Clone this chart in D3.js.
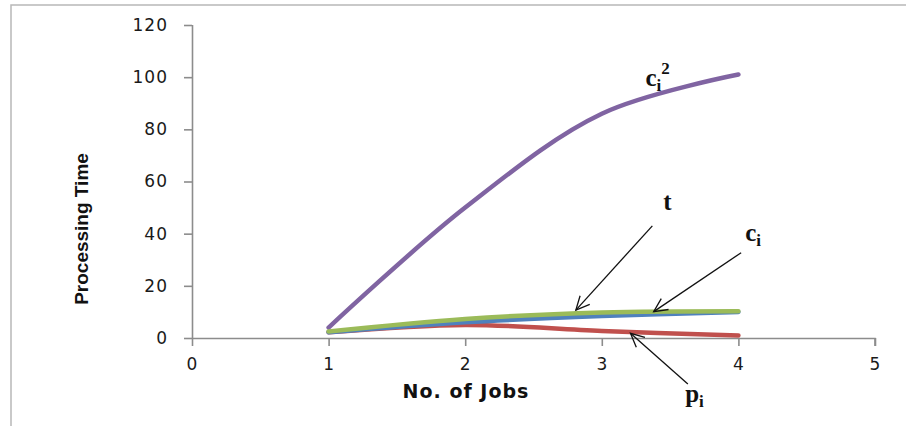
<!DOCTYPE html>
<html>
<head>
<meta charset="utf-8">
<script src="https://cdn.jsdelivr.net/npm/d3@7"></script>
<style>
  html, body { margin: 0; padding: 0; background: #fff; }
  svg { display: block; }
</style>
</head>
<body>
<svg id="chart" width="906" height="426"></svg>
<script>
// Number of jobs on the x axis
const jobs = [1, 2, 3, 4];

// Processing time of each quantity
const ci2Values = [4, 50, 86, 101];
const pValues   = [2.2, 5, 2.7, 1];
const cValues   = [2.2, 6, 8.4, 10];
const tValues   = [2.5, 7.3, 9.8, 10.3];

// Axis ticks
const xTicks = [0, 1, 2, 3, 4, 5];
const yTicks = [0, 20, 40, 60, 80, 100, 120];

const series = [
  { name: "ci2", values: ci2Values, color: "#8064A2" },
  { name: "p",   values: pValues,   color: "#C0504D" },
  { name: "c",   values: cValues,   color: "#4F81BD" },
  { name: "t",   values: tValues,   color: "#9BBB59" }
];

const svg = d3.select("#chart");

// outer frame
svg.append("rect")
  .attr("x", 11).attr("y", 5)
  .attr("width", 1000).attr("height", 1000)
  .attr("fill", "none")
  .attr("stroke", "#B8B8B8")
  .attr("stroke-width", 1.5);

const x = d3.scaleLinear().domain([0, 5]).range([192, 875]);
const y = d3.scaleLinear().domain([0, 120]).range([338, 25]);

const axisColor = "#8C8C8C";
const tickFont = "'DejaVu Sans', Verdana, sans-serif";

// y axis
const yAxis = svg.append("g")
  .attr("transform", `translate(${x(0)},0)`)
  .call(d3.axisLeft(y).tickValues(yTicks).tickSize(8).tickPadding(16).tickFormat(d3.format("d")));

// x axis
const xAxis = svg.append("g")
  .attr("transform", `translate(0,${y(0)})`)
  .call(d3.axisBottom(x).tickValues(xTicks).tickSize(8).tickPadding(12).tickFormat(d3.format("d")));

[yAxis, xAxis].forEach(g => {
  g.select(".domain").attr("stroke", axisColor).attr("stroke-width", 1.6);
  g.selectAll(".tick line").attr("stroke", axisColor).attr("stroke-width", 1.6);
  g.selectAll(".tick text")
    .attr("fill", "#1a1a1a")
    .style("font-family", tickFont)
    .style("font-size", "17px")
    .style("letter-spacing", "1px");
});
yAxis.select(".domain").attr("d", `M0.5,${y(120)}V${y(0)}`);
xAxis.select(".domain").attr("d", `M${x(0)},0.5H${x(5)}V8`);

// axis titles
svg.append("text")
  .attr("transform", `translate(88,229) rotate(-90)`)
  .attr("text-anchor", "middle")
  .style("font-family", "'Liberation Sans Narrow', 'Arial Narrow', 'Liberation Sans', sans-serif")
  .style("font-weight", "bold")
  .style("font-size", "19px")
  .attr("fill", "#111")
  .text("Processing Time");

svg.append("text")
  .attr("x", 466).attr("y", 398)
  .attr("text-anchor", "middle")
  .style("font-family", tickFont)
  .style("font-weight", "bold")
  .style("font-size", "19px")
  .style("letter-spacing", "1px")
  .attr("fill", "#111")
  .text("No. of Jobs");

// smoothed series lines
const line = d3.line()
  .x((d, i) => x(jobs[i]))
  .y(d => y(d))
  .curve(d3.curveCatmullRom.alpha(0.5));

svg.append("g").selectAll("path")
  .data(series)
  .join("path")
  .attr("d", d => line(d.values))
  .attr("fill", "none")
  .attr("stroke", d => d.color)
  .attr("stroke-width", 4.5)
  .attr("stroke-linecap", "round")
  .attr("stroke-linejoin", "round");

// annotation arrows (data coordinates: tail -> tip)
const arrows = [
  { from: [3.37, 43], to: [2.81, 10.7] },
  { from: [4.02, 32.7], to: [3.38, 10.1] },
  { from: [3.63, -17.6], to: [3.21, 1.8] }
];

const ag = svg.append("g").attr("stroke", "#111").attr("stroke-width", 1.3).attr("fill", "none");
arrows.forEach(a => {
  const x1 = x(a.from[0]), y1 = y(a.from[1]);
  const x2 = x(a.to[0]), y2 = y(a.to[1]);
  ag.append("line").attr("x1", x1).attr("y1", y1).attr("x2", x2).attr("y2", y2);
  const ang = Math.atan2(y1 - y2, x1 - x2);
  const len = 15, spread = 0.45;
  const p1 = [x2 + len * Math.cos(ang + spread), y2 + len * Math.sin(ang + spread)];
  const p2 = [x2 + len * Math.cos(ang - spread), y2 + len * Math.sin(ang - spread)];
  ag.append("path").attr("d", `M${p1[0]},${p1[1]}L${x2},${y2}L${p2[0]},${p2[1]}`);
});

// series labels with sub/superscripts
const serif = "'Liberation Serif', 'DejaVu Serif', serif";
function label(px, py, base, sub, sup) {
  const t = svg.append("text")
    .attr("x", x(px)).attr("y", y(py))
    .style("font-family", serif)
    .style("font-weight", "bold")
    .style("font-size", "25px")
    .attr("fill", "#111");
  t.append("tspan").text(base);
  if (sub) t.append("tspan").attr("dy", 5).style("font-size", "17px").text(sub);
  if (sup) t.append("tspan").attr("dy", -17).style("font-size", "17px").text(sup);
}
label(3.32, 96.5, "c", "i", "2");
label(3.45, 49, "t");
label(4.05, 37, "c", "i");
label(3.61, -24.5, "p", "i");
</script>
</body>
</html>
